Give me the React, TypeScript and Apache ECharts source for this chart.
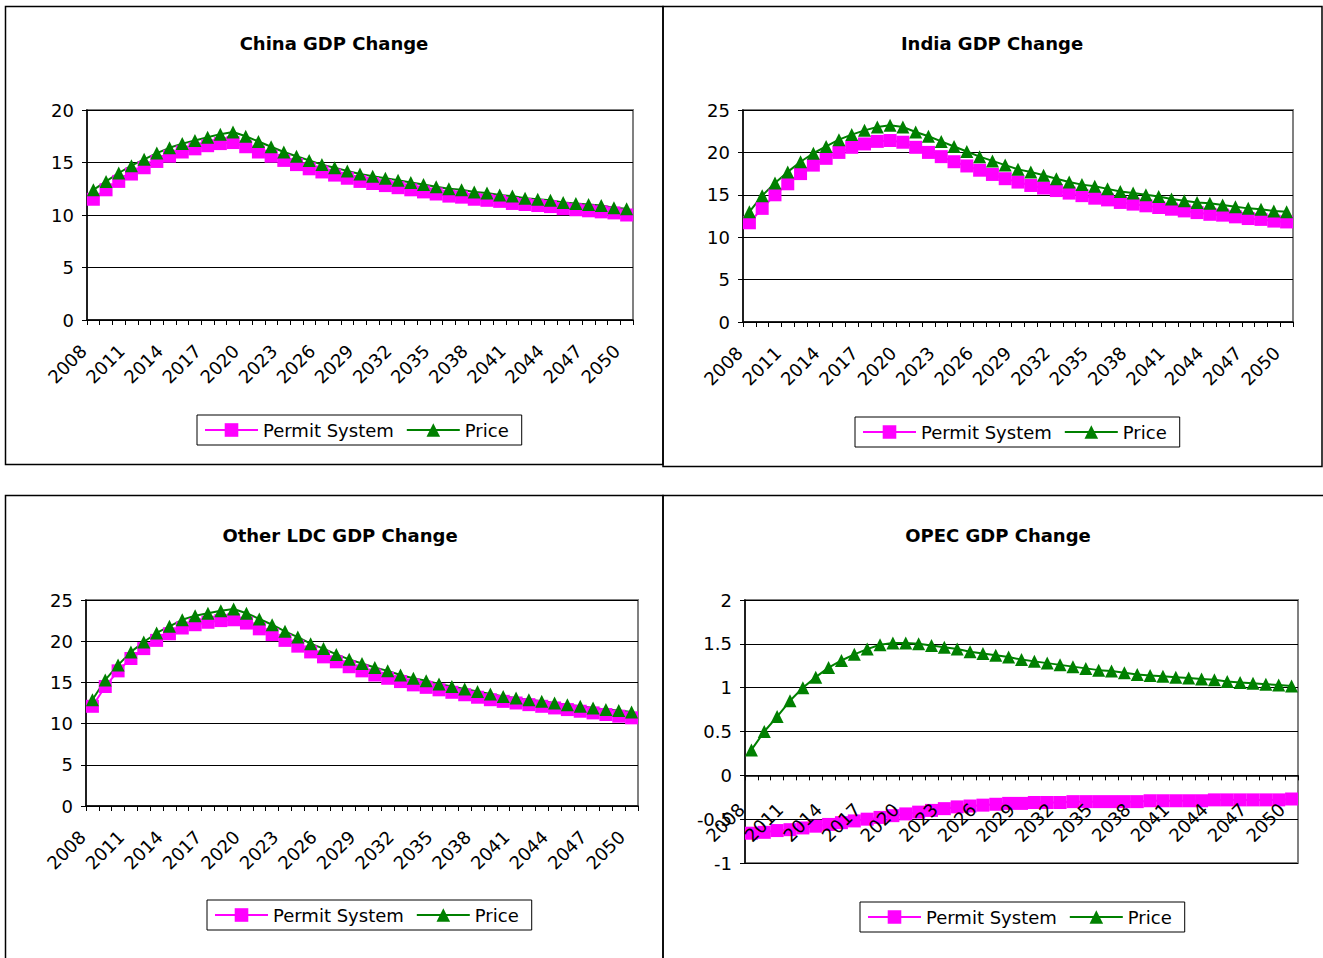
import React, { useEffect, useRef } from "react";
import * as echarts from "echarts";

const years = [
  "2008", "2009", "2010", "2011", "2012", "2013", "2014", "2015", "2016", "2017",
  "2018", "2019", "2020", "2021", "2022", "2023", "2024", "2025", "2026", "2027",
  "2028", "2029", "2030", "2031", "2032", "2033", "2034", "2035", "2036", "2037",
  "2038", "2039", "2040", "2041", "2042", "2043", "2044", "2045", "2046", "2047",
  "2048", "2049", "2050",
];

const chinaPermit = [11.5, 12.4, 13.2, 13.9, 14.5, 15.1, 15.6, 16.0, 16.3, 16.6, 16.8, 16.9, 16.5, 16.0, 15.6, 15.2, 14.8, 14.4, 14.1, 13.8, 13.5, 13.2, 13.0, 12.8, 12.6, 12.4, 12.2, 12.0, 11.8, 11.7, 11.5, 11.4, 11.3, 11.1, 11.0, 10.9, 10.8, 10.6, 10.5, 10.4, 10.3, 10.2, 10.0];
const chinaPrice = [12.4, 13.2, 14.0, 14.7, 15.3, 15.9, 16.4, 16.8, 17.1, 17.4, 17.7, 17.9, 17.5, 17.0, 16.5, 16.0, 15.6, 15.2, 14.8, 14.5, 14.2, 13.9, 13.7, 13.5, 13.3, 13.1, 12.9, 12.7, 12.5, 12.4, 12.2, 12.1, 11.9, 11.8, 11.6, 11.5, 11.4, 11.2, 11.1, 11.0, 10.9, 10.7, 10.6];

const indiaPermit = [11.7, 13.4, 15.0, 16.3, 17.5, 18.5, 19.3, 20.0, 20.6, 21.0, 21.3, 21.4, 21.2, 20.6, 20.0, 19.5, 18.9, 18.4, 17.9, 17.4, 16.9, 16.5, 16.1, 15.8, 15.5, 15.2, 14.9, 14.6, 14.4, 14.1, 13.9, 13.7, 13.5, 13.3, 13.1, 12.9, 12.7, 12.6, 12.4, 12.2, 12.1, 11.9, 11.8];
const indiaPrice = [13.0, 14.9, 16.4, 17.7, 18.9, 19.9, 20.7, 21.5, 22.1, 22.6, 23.0, 23.2, 23.0, 22.4, 21.9, 21.3, 20.7, 20.1, 19.5, 19.0, 18.5, 18.0, 17.7, 17.3, 16.9, 16.5, 16.2, 16.0, 15.7, 15.4, 15.2, 15.0, 14.8, 14.5, 14.3, 14.1, 14.0, 13.8, 13.6, 13.4, 13.3, 13.1, 13.0];

const ldcPermit = [12.1, 14.5, 16.4, 17.9, 19.1, 20.1, 20.9, 21.6, 22.0, 22.3, 22.5, 22.6, 22.2, 21.5, 20.8, 20.1, 19.4, 18.7, 18.1, 17.5, 16.9, 16.4, 15.9, 15.5, 15.1, 14.7, 14.4, 14.1, 13.8, 13.5, 13.2, 12.9, 12.7, 12.5, 12.3, 12.1, 11.9, 11.7, 11.5, 11.3, 11.1, 10.9, 10.7];
const ldcPrice = [12.9, 15.3, 17.1, 18.7, 19.9, 21.0, 21.8, 22.6, 23.1, 23.4, 23.7, 23.9, 23.4, 22.7, 22.0, 21.2, 20.5, 19.7, 19.1, 18.4, 17.8, 17.3, 16.8, 16.4, 15.9, 15.5, 15.2, 14.8, 14.5, 14.2, 13.9, 13.6, 13.3, 13.1, 12.9, 12.7, 12.5, 12.3, 12.1, 11.9, 11.7, 11.6, 11.4];

const opecPermit = [-0.66, -0.65, -0.63, -0.62, -0.60, -0.58, -0.56, -0.54, -0.52, -0.50, -0.48, -0.46, -0.44, -0.42, -0.40, -0.38, -0.36, -0.35, -0.34, -0.33, -0.32, -0.32, -0.31, -0.31, -0.31, -0.30, -0.30, -0.30, -0.30, -0.30, -0.30, -0.29, -0.29, -0.29, -0.29, -0.29, -0.28, -0.28, -0.28, -0.28, -0.28, -0.28, -0.27];
const opecPrice = [0.29, 0.50, 0.67, 0.85, 1.00, 1.12, 1.23, 1.31, 1.38, 1.44, 1.49, 1.51, 1.51, 1.50, 1.48, 1.46, 1.44, 1.41, 1.39, 1.37, 1.35, 1.32, 1.30, 1.28, 1.26, 1.24, 1.22, 1.20, 1.19, 1.17, 1.15, 1.14, 1.13, 1.12, 1.11, 1.10, 1.09, 1.07, 1.06, 1.05, 1.04, 1.03, 1.02];

const titles = ["China GDP Change", "India GDP Change", "Other LDC GDP Change", "OPEC GDP Change"];
const seriesNames = ["Permit System", "Price"];
const yRanges = [
  { min: 0, max: 20, interval: 5 },
  { min: 0, max: 25, interval: 5 },
  { min: 0, max: 25, interval: 5 },
  { min: -1, max: 2, interval: 0.5 },
];
const panelData = [
  [chinaPermit, chinaPrice],
  [indiaPermit, indiaPrice],
  [ldcPermit, ldcPrice],
  [opecPermit, opecPrice],
];

const FONT = "DejaVu Sans";
const MAGENTA = "#ff00ff";
const GREEN = "#008000";

const grids = [
  { left: 87, top: 110, width: 546, height: 210 },
  { left: 743, top: 110, width: 550, height: 212 },
  { left: 86, top: 600, width: 552, height: 206 },
  { left: 745, top: 600, width: 553, height: 263 },
];
// the OPEC category axis sits at value 0 (one third of the plot height above the bottom)
const xAxisOffsets = [0, 0, 0, -263 / 3];
const titlePos = [
  { x: 334, y: 43 },
  { x: 992, y: 43 },
  { x: 340, y: 535 },
  { x: 998, y: 535 },
];
const legendPos = [
  { left: 197, top: 415 },
  { left: 855, top: 417 },
  { left: 207, top: 900 },
  { left: 860, top: 902 },
];

export default function App() {
  const ref = useRef<HTMLDivElement>(null);
  useEffect(() => {
    if (!ref.current) return;
    const chart = echarts.init(ref.current, null, { renderer: "svg" });
    const option: any = {
      animation: false,
      backgroundColor: "#fff",
      textStyle: { fontFamily: FONT, color: "#000" },
      grid: grids.map((g) => ({
        ...g,
        show: true,
        borderColor: "#808080",
        borderWidth: 2,
        backgroundColor: "transparent",
        containLabel: false,
      })),
      xAxis: grids.map((_, i) => ({
        type: "category",
        gridIndex: i,
        data: years,
        boundaryGap: true,
        offset: xAxisOffsets[i],
        z: i === 3 ? 5 : 0,
        axisLine: { show: true, onZero: false, lineStyle: { color: "#000", width: 1.5 } },
        axisTick: { show: true, interval: 0, length: 5, lineStyle: { color: "#000", width: 1 } },
        axisLabel: {
          interval: 2,
          rotate: 45,
          fontSize: 18,
          fontFamily: FONT,
          color: "#000",
          margin: i === 3 ? 21 : 18,
          padding: [0, 14, 0, 0],
        },
        splitLine: { show: false },
      })),
      yAxis: yRanges.map((r, i) => ({
        type: "value",
        gridIndex: i,
        min: r.min,
        max: r.max,
        interval: r.interval,
        axisLine: { show: true, lineStyle: { color: "#000", width: 1.5 } },
        axisTick: { show: true, length: 5, lineStyle: { color: "#000", width: 1 } },
        axisLabel: { fontSize: 18, fontFamily: FONT, color: "#000", margin: 13 },
        splitLine: { show: true, lineStyle: { color: "#000", width: 1 } },
      })),
      legend: legendPos.map((p) => ({
        ...p,
        orient: "horizontal",
        data: seriesNames,
        itemWidth: 53,
        itemHeight: 17,
        itemGap: 12,
        padding: [6, 13, 6, 7],
        borderColor: "#000",
        borderWidth: 1,
        selectedMode: false,
        textStyle: { fontSize: 18, fontFamily: FONT, color: "#000" },
      })),
      series: panelData.flatMap((pair, i) => [
        {
          name: seriesNames[0],
          type: "line",
          xAxisIndex: i,
          yAxisIndex: i,
          data: pair[0],
          symbol: "rect",
          symbolSize: 13,
          showAllSymbol: true,
          lineStyle: { color: MAGENTA, width: 2 },
          itemStyle: { color: MAGENTA },
        },
        {
          name: seriesNames[1],
          type: "line",
          xAxisIndex: i,
          yAxisIndex: i,
          data: pair[1],
          symbol: "triangle",
          symbolSize: 13,
          showAllSymbol: true,
          lineStyle: { color: GREEN, width: 2 },
          itemStyle: { color: GREEN },
        },
      ]),
      graphic: [
        { type: "rect", shape: { x: 5.5, y: 6.5, width: 657.5, height: 458 }, style: { fill: "none", stroke: "#000", lineWidth: 1.5 }, silent: true },
        { type: "rect", shape: { x: 663, y: 6.5, width: 659, height: 460 }, style: { fill: "none", stroke: "#000", lineWidth: 1.5 }, silent: true },
        { type: "rect", shape: { x: 5.5, y: 495.5, width: 657.5, height: 480 }, style: { fill: "none", stroke: "#000", lineWidth: 1.5 }, silent: true },
        { type: "rect", shape: { x: 663, y: 495.5, width: 680, height: 480 }, style: { fill: "none", stroke: "#000", lineWidth: 1.5 }, silent: true },
        ...titles.map((t, i) => ({
          type: "text",
          x: titlePos[i].x,
          y: titlePos[i].y,
          silent: true,
          style: {
            text: t,
            fontSize: 18,
            fontWeight: "bold",
            fontFamily: FONT,
            fill: "#000",
            align: "center",
            verticalAlign: "middle",
          },
        })),
      ],
    };
    chart.setOption(option);
    return () => chart.dispose();
  }, []);
  return (
    <div
      ref={ref}
      style={{ position: "fixed", left: 0, top: 0, width: 1323, height: 958, background: "#fff" }}
    />
  );
}
